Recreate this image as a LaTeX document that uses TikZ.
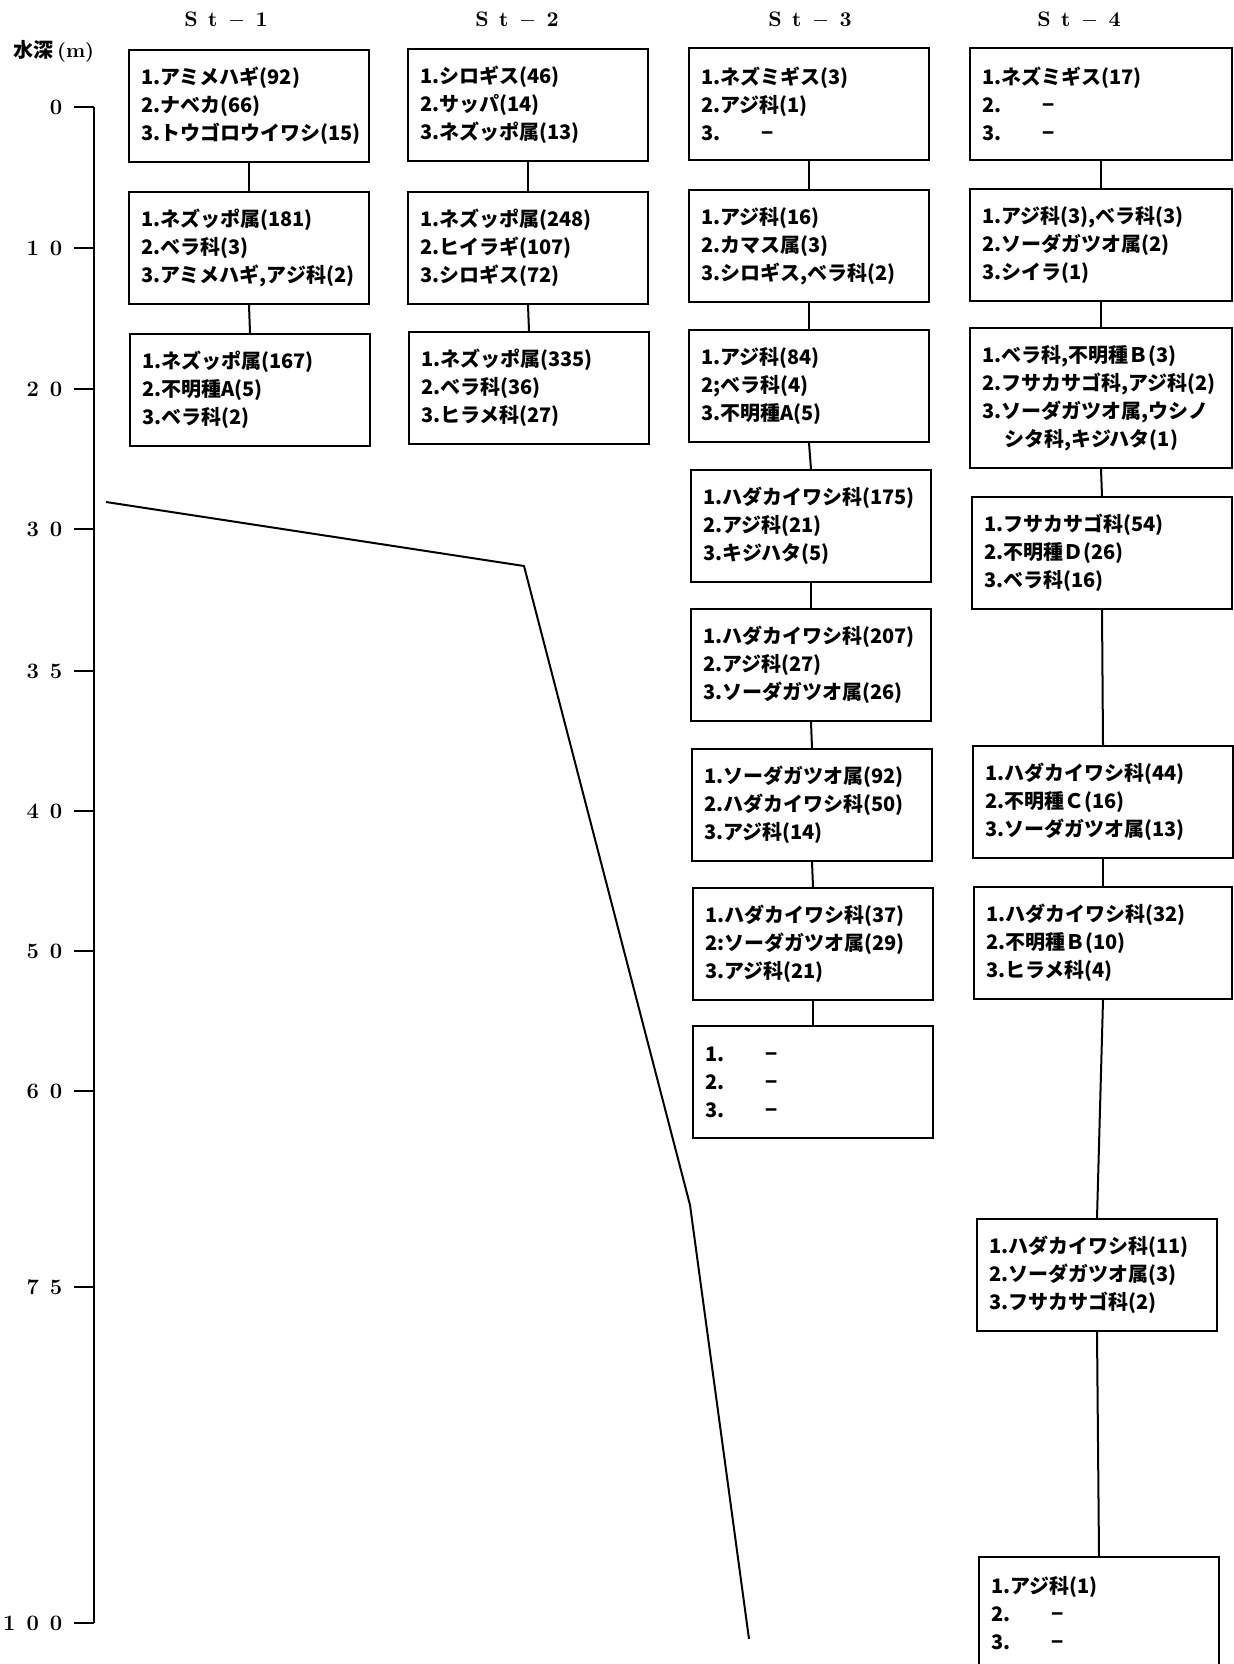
\documentclass[tikz,border=0pt]{standalone}
\usepackage{fontspec}
\newfontfamily\jp{Noto Sans CJK JP}
\newcommand\gap{\hspace{.5em}}
\newcommand\nohit[1]{\makebox[30pt][l]{#1.}−}
\begin{document}
\begin{tikzpicture}[x=.5pt,y=-.5pt,line width=1pt,
box/.style={draw,anchor=north west,align=left,inner xsep=6pt,text width=#1,minimum height=56pt,font=\jp\bfseries\fontsize{10pt}{14pt}\selectfont},
box/.default=108pt,
head/.style={font=\bfseries\fontsize{10.5pt}{12pt}\selectfont},
tick/.style={font=\bfseries\fontsize{11pt}{12pt}\selectfont,anchor=east}]
\path[use as bounding box,clip] (0,0) rectangle (1234,1664);
\path 
(94,107) coordinate (top)
(94,1623) coordinate (bot)
(106,502) coordinate (p1)
(524,566) coordinate (p2)
(690,1205) coordinate (p3)
(749,1639) coordinate (p4)
;
% depth axis
\draw (top)--(bot);
\foreach\y/\t in {107/0, 248/1\gap0, 389/2\gap0, 529/3\gap0, 671/3\gap5, 811/4\gap0, 951/5\gap0, 1091/6\gap0, 1287/7\gap5, 1623/1\gap0\gap0}
\draw (74,\y)--(94,\y) node[tick] (d\y) at (70,\y) {\t};
\node (unit) at (54,51) {{\jp\bfseries 水深}\,\textbf{(m)}};
% sea bottom
\draw[line join=round] (p1)--(p2)--(p3)--(p4);
% stations
\foreach\x/\n in {226/1, 517/2, 810/3, 1079/4}
\node[head] (h\n) at (\x,20) {S\gap t\gap$-$\gap\n};
\node[box] (s1a) at (128,49) {1.アミメハギ(92)\\2.ナベカ(66)\\3.トウゴロウイワシ(15)};
\node[box] (s1b) at (128,191) {1.ネズッポ属(181)\\2.ベラ科(3)\\3.アミメハギ,アジ科(2)};
\node[box] (s1c) at (129,333) {1.ネズッポ属(167)\\2.不明種A(5)\\3.ベラ科(2)};
\node[box] (s2a) at (407,48) {1.シロギス(46)\\2.サッパ(14)\\3.ネズッポ属(13)};
\node[box] (s2b) at (407,191) {1.ネズッポ属(248)\\2.ヒイラギ(107)\\3.シロギス(72)};
\node[box] (s2c) at (408,331) {1.ネズッポ属(335)\\2.ベラ科(36)\\3.ヒラメ科(27)};
\node[box] (s3a) at (688,47) {1.ネズミギス(3)\\2.アジ科(1)\\\nohit{3}};
\node[box] (s3b) at (688,189) {1.アジ科(16)\\2.カマス属(3)\\3.シロギス,ベラ科(2)};
\node[box] (s3c) at (688,329) {1.アジ科(84)\\2;ベラ科(4)\\3.不明種A(5)};
\node[box] (s3d) at (690,469) {1.ハダカイワシ科(175)\\2.アジ科(21)\\3.キジハタ(5)};
\node[box] (s3e) at (690,608) {1.ハダカイワシ科(207)\\2.アジ科(27)\\3.ソーダガツオ属(26)};
\node[box] (s3f) at (691,748) {1.ソーダガツオ属(92)\\2.ハダカイワシ科(50)\\3.アジ科(14)};
\node[box] (s3g) at (692,887) {1.ハダカイワシ科(37)\\2:ソーダガツオ属(29)\\3.アジ科(21)};
\node[box] (s3h) at (692,1025) {\nohit{1}\\\nohit{2}\\\nohit{3}};
\node[box=119pt] (s4a) at (969,47) {1.ネズミギス(17)\\\nohit{2}\\\nohit{3}};
\node[box=119pt] (s4b) at (969,188) {1.アジ科(3),ベラ科(3)\\2.ソーダガツオ属(2)\\3.シイラ(1)};
\node[box=119pt,minimum height=70pt] (s4c) at (969,327) {1.ベラ科,不明種Ｂ(3)\\2.フサカサゴ科,アジ科(2)\\3.ソーダガツオ属,ウシノ\\\hspace*{11pt}シタ科,キジハタ(1)};
\node[box=118pt] (s4d) at (971,496) {1.フサカサゴ科(54)\\2.不明種Ｄ(26)\\3.ベラ科(16)};
\node[box=118pt] (s4e) at (972,745) {1.ハダカイワシ科(44)\\2.不明種Ｃ(16)\\3.ソーダガツオ属(13)};
\node[box=117pt] (s4f) at (973,886) {1.ハダカイワシ科(32)\\2.不明種Ｂ(10)\\3.ヒラメ科(4)};
\node[box] (s4g) at (976,1218) {1.ハダカイワシ科(11)\\2.ソーダガツオ属(3)\\3.フサカサゴ科(2)};
\node[box] (s4h) at (978,1556) {1.アジ科(1)\\\nohit{2}\\\nohit{3}};
\foreach\a/\b in {s1a/s1b, s1b/s1c, s2a/s2b, s2b/s2c, s3a/s3b, s3b/s3c, s3c/s3d, s3d/s3e, s3e/s3f, s3f/s3g, s3g/s3h, s4a/s4b, s4b/s4c, s4c/s4d, s4d/s4e, s4e/s4f, s4f/s4g, s4g/s4h}
\draw (\a.south)--(\b.north);
\end{tikzpicture}
\end{document}
